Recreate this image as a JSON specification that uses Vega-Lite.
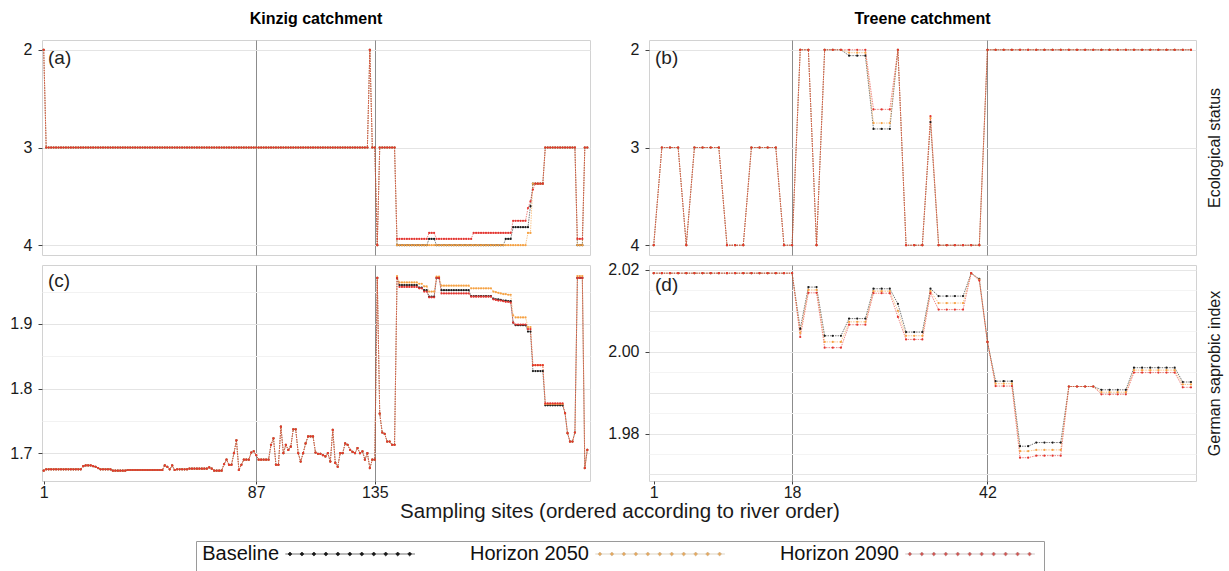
{
"$schema":"https://vega.github.io/schema/vega-lite/v6.json",
"padding":{"left":9,"top":10,"right":5,"bottom":0},
"background":"white",
"config":{
"font":"Liberation Sans",
"view":{"stroke":"#d2d2d2","strokeWidth":1},
"axis":{"minExtent":0,"maxExtent":200,"labelFontSize":16,"labelColor":"#1a1a1a","tickColor":"#444","tickSize":4,"domain":false,"titleFontWeight":"normal","labelFlush":false,"labelOverlap":false},
"title":{"fontSize":16,"fontWeight":"bold","color":"#000"}
},
"datasets":{
"ka":[{"s":1,"b":2,"m":2,"h":2},{"s":2,"b":3,"m":3,"h":3},{"s":3,"b":3,"m":3,"h":3},{"s":4,"b":3,"m":3,"h":3},{"s":5,"b":3,"m":3,"h":3},{"s":6,"b":3,"m":3,"h":3},{"s":7,"b":3,"m":3,"h":3},{"s":8,"b":3,"m":3,"h":3},{"s":9,"b":3,"m":3,"h":3},{"s":10,"b":3,"m":3,"h":3},{"s":11,"b":3,"m":3,"h":3},{"s":12,"b":3,"m":3,"h":3},{"s":13,"b":3,"m":3,"h":3},{"s":14,"b":3,"m":3,"h":3},{"s":15,"b":3,"m":3,"h":3},{"s":16,"b":3,"m":3,"h":3},{"s":17,"b":3,"m":3,"h":3},{"s":18,"b":3,"m":3,"h":3},{"s":19,"b":3,"m":3,"h":3},{"s":20,"b":3,"m":3,"h":3},{"s":21,"b":3,"m":3,"h":3},{"s":22,"b":3,"m":3,"h":3},{"s":23,"b":3,"m":3,"h":3},{"s":24,"b":3,"m":3,"h":3},{"s":25,"b":3,"m":3,"h":3},{"s":26,"b":3,"m":3,"h":3},{"s":27,"b":3,"m":3,"h":3},{"s":28,"b":3,"m":3,"h":3},{"s":29,"b":3,"m":3,"h":3},{"s":30,"b":3,"m":3,"h":3},{"s":31,"b":3,"m":3,"h":3},{"s":32,"b":3,"m":3,"h":3},{"s":33,"b":3,"m":3,"h":3},{"s":34,"b":3,"m":3,"h":3},{"s":35,"b":3,"m":3,"h":3},{"s":36,"b":3,"m":3,"h":3},{"s":37,"b":3,"m":3,"h":3},{"s":38,"b":3,"m":3,"h":3},{"s":39,"b":3,"m":3,"h":3},{"s":40,"b":3,"m":3,"h":3},{"s":41,"b":3,"m":3,"h":3},{"s":42,"b":3,"m":3,"h":3},{"s":43,"b":3,"m":3,"h":3},{"s":44,"b":3,"m":3,"h":3},{"s":45,"b":3,"m":3,"h":3},{"s":46,"b":3,"m":3,"h":3},{"s":47,"b":3,"m":3,"h":3},{"s":48,"b":3,"m":3,"h":3},{"s":49,"b":3,"m":3,"h":3},{"s":50,"b":3,"m":3,"h":3},{"s":51,"b":3,"m":3,"h":3},{"s":52,"b":3,"m":3,"h":3},{"s":53,"b":3,"m":3,"h":3},{"s":54,"b":3,"m":3,"h":3},{"s":55,"b":3,"m":3,"h":3},{"s":56,"b":3,"m":3,"h":3},{"s":57,"b":3,"m":3,"h":3},{"s":58,"b":3,"m":3,"h":3},{"s":59,"b":3,"m":3,"h":3},{"s":60,"b":3,"m":3,"h":3},{"s":61,"b":3,"m":3,"h":3},{"s":62,"b":3,"m":3,"h":3},{"s":63,"b":3,"m":3,"h":3},{"s":64,"b":3,"m":3,"h":3},{"s":65,"b":3,"m":3,"h":3},{"s":66,"b":3,"m":3,"h":3},{"s":67,"b":3,"m":3,"h":3},{"s":68,"b":3,"m":3,"h":3},{"s":69,"b":3,"m":3,"h":3},{"s":70,"b":3,"m":3,"h":3},{"s":71,"b":3,"m":3,"h":3},{"s":72,"b":3,"m":3,"h":3},{"s":73,"b":3,"m":3,"h":3},{"s":74,"b":3,"m":3,"h":3},{"s":75,"b":3,"m":3,"h":3},{"s":76,"b":3,"m":3,"h":3},{"s":77,"b":3,"m":3,"h":3},{"s":78,"b":3,"m":3,"h":3},{"s":79,"b":3,"m":3,"h":3},{"s":80,"b":3,"m":3,"h":3},{"s":81,"b":3,"m":3,"h":3},{"s":82,"b":3,"m":3,"h":3},{"s":83,"b":3,"m":3,"h":3},{"s":84,"b":3,"m":3,"h":3},{"s":85,"b":3,"m":3,"h":3},{"s":86,"b":3,"m":3,"h":3},{"s":87,"b":3,"m":3,"h":3},{"s":88,"b":3,"m":3,"h":3},{"s":89,"b":3,"m":3,"h":3},{"s":90,"b":3,"m":3,"h":3},{"s":91,"b":3,"m":3,"h":3},{"s":92,"b":3,"m":3,"h":3},{"s":93,"b":3,"m":3,"h":3},{"s":94,"b":3,"m":3,"h":3},{"s":95,"b":3,"m":3,"h":3},{"s":96,"b":3,"m":3,"h":3},{"s":97,"b":3,"m":3,"h":3},{"s":98,"b":3,"m":3,"h":3},{"s":99,"b":3,"m":3,"h":3},{"s":100,"b":3,"m":3,"h":3},{"s":101,"b":3,"m":3,"h":3},{"s":102,"b":3,"m":3,"h":3},{"s":103,"b":3,"m":3,"h":3},{"s":104,"b":3,"m":3,"h":3},{"s":105,"b":3,"m":3,"h":3},{"s":106,"b":3,"m":3,"h":3},{"s":107,"b":3,"m":3,"h":3},{"s":108,"b":3,"m":3,"h":3},{"s":109,"b":3,"m":3,"h":3},{"s":110,"b":3,"m":3,"h":3},{"s":111,"b":3,"m":3,"h":3},{"s":112,"b":3,"m":3,"h":3},{"s":113,"b":3,"m":3,"h":3},{"s":114,"b":3,"m":3,"h":3},{"s":115,"b":3,"m":3,"h":3},{"s":116,"b":3,"m":3,"h":3},{"s":117,"b":3,"m":3,"h":3},{"s":118,"b":3,"m":3,"h":3},{"s":119,"b":3,"m":3,"h":3},{"s":120,"b":3,"m":3,"h":3},{"s":121,"b":3,"m":3,"h":3},{"s":122,"b":3,"m":3,"h":3},{"s":123,"b":3,"m":3,"h":3},{"s":124,"b":3,"m":3,"h":3},{"s":125,"b":3,"m":3,"h":3},{"s":126,"b":3,"m":3,"h":3},{"s":127,"b":3,"m":3,"h":3},{"s":128,"b":3,"m":3,"h":3},{"s":129,"b":3,"m":3,"h":3},{"s":130,"b":3,"m":3,"h":3},{"s":131,"b":3,"m":3,"h":3},{"s":132,"b":3,"m":3,"h":3},{"s":133,"b":2,"m":2,"h":2},{"s":134,"b":3,"m":3,"h":3},{"s":135,"b":3,"m":3,"h":3},{"s":136,"b":4,"m":4,"h":4},{"s":137,"b":3,"m":3,"h":3},{"s":138,"b":3,"m":3,"h":3},{"s":139,"b":3,"m":3,"h":3},{"s":140,"b":3,"m":3,"h":3},{"s":141,"b":3,"m":3,"h":3},{"s":142,"b":3,"m":3,"h":3},{"s":143,"b":3,"m":3,"h":3},{"s":144,"b":4,"m":4,"h":3.935},{"s":145,"b":4,"m":4,"h":3.935},{"s":146,"b":4,"m":4,"h":3.935},{"s":147,"b":4,"m":4,"h":3.935},{"s":148,"b":4,"m":4,"h":3.935},{"s":149,"b":4,"m":4,"h":3.935},{"s":150,"b":4,"m":4,"h":3.935},{"s":151,"b":4,"m":4,"h":3.935},{"s":152,"b":4,"m":4,"h":3.935},{"s":153,"b":4,"m":4,"h":3.935},{"s":154,"b":4,"m":4,"h":3.935},{"s":155,"b":4,"m":4,"h":3.935},{"s":156,"b":4,"m":4,"h":3.935},{"s":157,"b":3.935,"m":4,"h":3.874},{"s":158,"b":3.935,"m":4,"h":3.874},{"s":159,"b":3.935,"m":4,"h":3.874},{"s":160,"b":4,"m":4,"h":3.935},{"s":161,"b":4,"m":4,"h":3.935},{"s":162,"b":4,"m":4,"h":3.935},{"s":163,"b":4,"m":4,"h":3.935},{"s":164,"b":4,"m":4,"h":3.935},{"s":165,"b":4,"m":4,"h":3.935},{"s":166,"b":4,"m":4,"h":3.935},{"s":167,"b":4,"m":4,"h":3.935},{"s":168,"b":4,"m":4,"h":3.935},{"s":169,"b":4,"m":4,"h":3.935},{"s":170,"b":4,"m":4,"h":3.935},{"s":171,"b":4,"m":4,"h":3.935},{"s":172,"b":4,"m":4,"h":3.935},{"s":173,"b":4,"m":4,"h":3.935},{"s":174,"b":4,"m":4,"h":3.935},{"s":175,"b":4,"m":4,"h":3.874},{"s":176,"b":4,"m":4,"h":3.874},{"s":177,"b":4,"m":4,"h":3.874},{"s":178,"b":4,"m":4,"h":3.874},{"s":179,"b":4,"m":4,"h":3.874},{"s":180,"b":4,"m":4,"h":3.874},{"s":181,"b":4,"m":4,"h":3.874},{"s":182,"b":4,"m":4,"h":3.874},{"s":183,"b":4,"m":4,"h":3.874},{"s":184,"b":4,"m":4,"h":3.874},{"s":185,"b":4,"m":4,"h":3.874},{"s":186,"b":4,"m":4,"h":3.874},{"s":187,"b":4,"m":4,"h":3.874},{"s":188,"b":3.935,"m":4,"h":3.874},{"s":189,"b":3.935,"m":4,"h":3.874},{"s":190,"b":3.935,"m":4,"h":3.874},{"s":191,"b":3.815,"m":4,"h":3.75},{"s":192,"b":3.815,"m":4,"h":3.75},{"s":193,"b":3.815,"m":4,"h":3.75},{"s":194,"b":3.815,"m":4,"h":3.75},{"s":195,"b":3.815,"m":4,"h":3.75},{"s":196,"b":3.815,"m":4,"h":3.75},{"s":197,"b":3.815,"m":3.874,"h":3.62},{"s":198,"b":3.6,"m":3.874,"h":3.55},{"s":199,"b":3.37,"m":3.37,"h":3.43},{"s":200,"b":3.37,"m":3.37,"h":3.37},{"s":201,"b":3.37,"m":3.37,"h":3.37},{"s":202,"b":3.37,"m":3.37,"h":3.37},{"s":203,"b":3.37,"m":3.37,"h":3.37},{"s":204,"b":3,"m":3,"h":3},{"s":205,"b":3,"m":3,"h":3},{"s":206,"b":3,"m":3,"h":3},{"s":207,"b":3,"m":3,"h":3},{"s":208,"b":3,"m":3,"h":3},{"s":209,"b":3,"m":3,"h":3},{"s":210,"b":3,"m":3,"h":3},{"s":211,"b":3,"m":3,"h":3},{"s":212,"b":3,"m":3,"h":3},{"s":213,"b":3,"m":3,"h":3},{"s":214,"b":3,"m":3,"h":3},{"s":215,"b":3,"m":3,"h":3},{"s":216,"b":3,"m":3,"h":3},{"s":217,"b":4,"m":4,"h":3.935},{"s":218,"b":4,"m":4,"h":3.935},{"s":219,"b":4,"m":4,"h":3.935},{"s":220,"b":3,"m":3,"h":3},{"s":221,"b":3,"m":3,"h":3}],
"kc":[{"s":1,"b":1.673,"m":1.673,"h":1.673},{"s":2,"b":1.675,"m":1.675,"h":1.675},{"s":3,"b":1.675,"m":1.675,"h":1.675},{"s":4,"b":1.675,"m":1.675,"h":1.675},{"s":5,"b":1.675,"m":1.675,"h":1.675},{"s":6,"b":1.675,"m":1.675,"h":1.675},{"s":7,"b":1.675,"m":1.675,"h":1.675},{"s":8,"b":1.675,"m":1.675,"h":1.675},{"s":9,"b":1.675,"m":1.675,"h":1.675},{"s":10,"b":1.675,"m":1.675,"h":1.675},{"s":11,"b":1.675,"m":1.675,"h":1.675},{"s":12,"b":1.675,"m":1.675,"h":1.675},{"s":13,"b":1.675,"m":1.675,"h":1.675},{"s":14,"b":1.675,"m":1.675,"h":1.675},{"s":15,"b":1.675,"m":1.675,"h":1.675},{"s":16,"b":1.675,"m":1.675,"h":1.675},{"s":17,"b":1.68,"m":1.68,"h":1.68},{"s":18,"b":1.681,"m":1.681,"h":1.681},{"s":19,"b":1.681,"m":1.681,"h":1.681},{"s":20,"b":1.681,"m":1.681,"h":1.681},{"s":21,"b":1.68,"m":1.68,"h":1.68},{"s":22,"b":1.679,"m":1.679,"h":1.679},{"s":23,"b":1.677,"m":1.677,"h":1.677},{"s":24,"b":1.675,"m":1.675,"h":1.675},{"s":25,"b":1.675,"m":1.675,"h":1.675},{"s":26,"b":1.675,"m":1.675,"h":1.675},{"s":27,"b":1.675,"m":1.675,"h":1.675},{"s":28,"b":1.675,"m":1.675,"h":1.675},{"s":29,"b":1.673,"m":1.673,"h":1.673},{"s":30,"b":1.673,"m":1.673,"h":1.673},{"s":31,"b":1.673,"m":1.673,"h":1.673},{"s":32,"b":1.673,"m":1.673,"h":1.673},{"s":33,"b":1.673,"m":1.673,"h":1.673},{"s":34,"b":1.673,"m":1.673,"h":1.673},{"s":35,"b":1.674,"m":1.674,"h":1.674},{"s":36,"b":1.674,"m":1.674,"h":1.674},{"s":37,"b":1.674,"m":1.674,"h":1.674},{"s":38,"b":1.674,"m":1.674,"h":1.674},{"s":39,"b":1.674,"m":1.674,"h":1.674},{"s":40,"b":1.674,"m":1.674,"h":1.674},{"s":41,"b":1.674,"m":1.674,"h":1.674},{"s":42,"b":1.674,"m":1.674,"h":1.674},{"s":43,"b":1.674,"m":1.674,"h":1.674},{"s":44,"b":1.674,"m":1.674,"h":1.674},{"s":45,"b":1.674,"m":1.674,"h":1.674},{"s":46,"b":1.674,"m":1.674,"h":1.674},{"s":47,"b":1.674,"m":1.674,"h":1.674},{"s":48,"b":1.674,"m":1.674,"h":1.674},{"s":49,"b":1.674,"m":1.674,"h":1.674},{"s":50,"b":1.681,"m":1.681,"h":1.681},{"s":51,"b":1.679,"m":1.679,"h":1.679},{"s":52,"b":1.675,"m":1.675,"h":1.675},{"s":53,"b":1.681,"m":1.681,"h":1.681},{"s":54,"b":1.674,"m":1.674,"h":1.674},{"s":55,"b":1.675,"m":1.675,"h":1.675},{"s":56,"b":1.675,"m":1.675,"h":1.675},{"s":57,"b":1.675,"m":1.675,"h":1.675},{"s":58,"b":1.675,"m":1.675,"h":1.675},{"s":59,"b":1.675,"m":1.675,"h":1.675},{"s":60,"b":1.676,"m":1.676,"h":1.676},{"s":61,"b":1.676,"m":1.676,"h":1.676},{"s":62,"b":1.676,"m":1.676,"h":1.676},{"s":63,"b":1.676,"m":1.676,"h":1.676},{"s":64,"b":1.676,"m":1.676,"h":1.676},{"s":65,"b":1.676,"m":1.676,"h":1.676},{"s":66,"b":1.676,"m":1.676,"h":1.676},{"s":67,"b":1.676,"m":1.676,"h":1.676},{"s":68,"b":1.678,"m":1.678,"h":1.678},{"s":69,"b":1.676,"m":1.676,"h":1.676},{"s":70,"b":1.673,"m":1.673,"h":1.673},{"s":71,"b":1.673,"m":1.673,"h":1.673},{"s":72,"b":1.673,"m":1.673,"h":1.673},{"s":73,"b":1.673,"m":1.673,"h":1.673},{"s":74,"b":1.683,"m":1.683,"h":1.683},{"s":75,"b":1.69,"m":1.69,"h":1.69},{"s":76,"b":1.682,"m":1.682,"h":1.682},{"s":77,"b":1.682,"m":1.682,"h":1.682},{"s":78,"b":1.7,"m":1.7,"h":1.7},{"s":79,"b":1.72,"m":1.72,"h":1.72},{"s":80,"b":1.674,"m":1.674,"h":1.674},{"s":81,"b":1.682,"m":1.682,"h":1.682},{"s":82,"b":1.69,"m":1.69,"h":1.69},{"s":83,"b":1.69,"m":1.69,"h":1.69},{"s":84,"b":1.69,"m":1.69,"h":1.69},{"s":85,"b":1.701,"m":1.701,"h":1.701},{"s":86,"b":1.703,"m":1.703,"h":1.703},{"s":87,"b":1.697,"m":1.697,"h":1.697},{"s":88,"b":1.69,"m":1.69,"h":1.69},{"s":89,"b":1.69,"m":1.69,"h":1.69},{"s":90,"b":1.69,"m":1.69,"h":1.69},{"s":91,"b":1.69,"m":1.69,"h":1.69},{"s":92,"b":1.69,"m":1.69,"h":1.69},{"s":93,"b":1.713,"m":1.713,"h":1.713},{"s":94,"b":1.723,"m":1.723,"h":1.723},{"s":95,"b":1.682,"m":1.682,"h":1.682},{"s":96,"b":1.682,"m":1.682,"h":1.682},{"s":97,"b":1.741,"m":1.741,"h":1.741},{"s":98,"b":1.7,"m":1.7,"h":1.7},{"s":99,"b":1.713,"m":1.713,"h":1.713},{"s":100,"b":1.705,"m":1.705,"h":1.705},{"s":101,"b":1.71,"m":1.71,"h":1.71},{"s":102,"b":1.737,"m":1.737,"h":1.737},{"s":103,"b":1.737,"m":1.737,"h":1.737},{"s":104,"b":1.7,"m":1.7,"h":1.7},{"s":105,"b":1.687,"m":1.687,"h":1.687},{"s":106,"b":1.7,"m":1.7,"h":1.7},{"s":107,"b":1.715,"m":1.715,"h":1.715},{"s":108,"b":1.726,"m":1.726,"h":1.726},{"s":109,"b":1.726,"m":1.726,"h":1.726},{"s":110,"b":1.726,"m":1.726,"h":1.726},{"s":111,"b":1.701,"m":1.701,"h":1.701},{"s":112,"b":1.699,"m":1.699,"h":1.699},{"s":113,"b":1.699,"m":1.699,"h":1.699},{"s":114,"b":1.697,"m":1.697,"h":1.697},{"s":115,"b":1.695,"m":1.695,"h":1.695},{"s":116,"b":1.7,"m":1.7,"h":1.7},{"s":117,"b":1.687,"m":1.687,"h":1.687},{"s":118,"b":1.736,"m":1.736,"h":1.736},{"s":119,"b":1.685,"m":1.685,"h":1.685},{"s":120,"b":1.679,"m":1.679,"h":1.679},{"s":121,"b":1.7,"m":1.7,"h":1.7},{"s":122,"b":1.7,"m":1.7,"h":1.7},{"s":123,"b":1.715,"m":1.715,"h":1.715},{"s":124,"b":1.713,"m":1.713,"h":1.713},{"s":125,"b":1.705,"m":1.705,"h":1.705},{"s":126,"b":1.702,"m":1.702,"h":1.702},{"s":127,"b":1.7,"m":1.7,"h":1.7},{"s":128,"b":1.708,"m":1.708,"h":1.708},{"s":129,"b":1.7,"m":1.7,"h":1.7},{"s":130,"b":1.703,"m":1.703,"h":1.703},{"s":131,"b":1.69,"m":1.69,"h":1.69},{"s":132,"b":1.7,"m":1.7,"h":1.7},{"s":133,"b":1.677,"m":1.677,"h":1.677},{"s":134,"b":1.69,"m":1.69,"h":1.69},{"s":135,"b":1.69,"m":1.69,"h":1.69},{"s":136,"b":1.971,"m":1.971,"h":1.971},{"s":137,"b":1.761,"m":1.761,"h":1.761},{"s":138,"b":1.732,"m":1.732,"h":1.732},{"s":139,"b":1.73,"m":1.73,"h":1.73},{"s":140,"b":1.718,"m":1.718,"h":1.718},{"s":141,"b":1.718,"m":1.718,"h":1.718},{"s":142,"b":1.713,"m":1.713,"h":1.713},{"s":143,"b":1.713,"m":1.713,"h":1.713},{"s":144,"b":1.971,"m":1.974,"h":1.971},{"s":145,"b":1.96,"m":1.964,"h":1.957},{"s":146,"b":1.96,"m":1.964,"h":1.957},{"s":147,"b":1.96,"m":1.964,"h":1.957},{"s":148,"b":1.96,"m":1.964,"h":1.957},{"s":149,"b":1.96,"m":1.964,"h":1.957},{"s":150,"b":1.96,"m":1.964,"h":1.957},{"s":151,"b":1.96,"m":1.964,"h":1.957},{"s":152,"b":1.96,"m":1.964,"h":1.957},{"s":153,"b":1.956,"m":1.962,"h":1.955},{"s":154,"b":1.956,"m":1.962,"h":1.955},{"s":155,"b":1.952,"m":1.958,"h":1.95},{"s":156,"b":1.952,"m":1.958,"h":1.95},{"s":157,"b":1.942,"m":1.95,"h":1.941},{"s":158,"b":1.942,"m":1.95,"h":1.941},{"s":159,"b":1.942,"m":1.95,"h":1.941},{"s":160,"b":1.971,"m":1.973,"h":1.971},{"s":161,"b":1.971,"m":1.973,"h":1.971},{"s":162,"b":1.952,"m":1.959,"h":1.947},{"s":163,"b":1.952,"m":1.959,"h":1.947},{"s":164,"b":1.952,"m":1.959,"h":1.947},{"s":165,"b":1.952,"m":1.959,"h":1.947},{"s":166,"b":1.952,"m":1.959,"h":1.947},{"s":167,"b":1.952,"m":1.959,"h":1.947},{"s":168,"b":1.952,"m":1.959,"h":1.947},{"s":169,"b":1.952,"m":1.959,"h":1.947},{"s":170,"b":1.952,"m":1.959,"h":1.947},{"s":171,"b":1.952,"m":1.959,"h":1.947},{"s":172,"b":1.952,"m":1.959,"h":1.947},{"s":173,"b":1.952,"m":1.959,"h":1.947},{"s":174,"b":1.943,"m":1.955,"h":1.942},{"s":175,"b":1.943,"m":1.955,"h":1.942},{"s":176,"b":1.943,"m":1.955,"h":1.942},{"s":177,"b":1.943,"m":1.955,"h":1.942},{"s":178,"b":1.943,"m":1.955,"h":1.942},{"s":179,"b":1.943,"m":1.955,"h":1.942},{"s":180,"b":1.943,"m":1.955,"h":1.942},{"s":181,"b":1.943,"m":1.955,"h":1.942},{"s":182,"b":1.943,"m":1.955,"h":1.942},{"s":183,"b":1.939,"m":1.95,"h":1.938},{"s":184,"b":1.938,"m":1.949,"h":1.937},{"s":185,"b":1.938,"m":1.948,"h":1.936},{"s":186,"b":1.937,"m":1.947,"h":1.936},{"s":187,"b":1.936,"m":1.946,"h":1.935},{"s":188,"b":1.936,"m":1.946,"h":1.934},{"s":189,"b":1.935,"m":1.945,"h":1.934},{"s":190,"b":1.935,"m":1.945,"h":1.933},{"s":191,"b":1.902,"m":1.913,"h":1.902},{"s":192,"b":1.898,"m":1.91,"h":1.899},{"s":193,"b":1.898,"m":1.91,"h":1.899},{"s":194,"b":1.898,"m":1.91,"h":1.899},{"s":195,"b":1.898,"m":1.91,"h":1.899},{"s":196,"b":1.898,"m":1.91,"h":1.899},{"s":197,"b":1.888,"m":1.895,"h":1.892},{"s":198,"b":1.888,"m":1.895,"h":1.892},{"s":199,"b":1.827,"m":1.836,"h":1.836},{"s":200,"b":1.827,"m":1.836,"h":1.836},{"s":201,"b":1.827,"m":1.836,"h":1.836},{"s":202,"b":1.827,"m":1.836,"h":1.836},{"s":203,"b":1.827,"m":1.836,"h":1.836},{"s":204,"b":1.774,"m":1.776,"h":1.777},{"s":205,"b":1.774,"m":1.776,"h":1.777},{"s":206,"b":1.774,"m":1.776,"h":1.777},{"s":207,"b":1.774,"m":1.776,"h":1.777},{"s":208,"b":1.774,"m":1.776,"h":1.777},{"s":209,"b":1.774,"m":1.776,"h":1.777},{"s":210,"b":1.774,"m":1.776,"h":1.777},{"s":211,"b":1.774,"m":1.776,"h":1.777},{"s":212,"b":1.762,"m":1.762,"h":1.762},{"s":213,"b":1.731,"m":1.731,"h":1.731},{"s":214,"b":1.718,"m":1.718,"h":1.718},{"s":215,"b":1.718,"m":1.718,"h":1.718},{"s":216,"b":1.732,"m":1.732,"h":1.732},{"s":217,"b":1.971,"m":1.974,"h":1.971},{"s":218,"b":1.971,"m":1.974,"h":1.971},{"s":219,"b":1.971,"m":1.974,"h":1.971},{"s":220,"b":1.677,"m":1.677,"h":1.677},{"s":221,"b":1.705,"m":1.705,"h":1.705}],
"tb":[{"s":1,"b":4,"m":4,"h":4},{"s":2,"b":3,"m":3,"h":3},{"s":3,"b":3,"m":3,"h":3},{"s":4,"b":3,"m":3,"h":3},{"s":5,"b":4,"m":4,"h":4},{"s":6,"b":3,"m":3,"h":3},{"s":7,"b":3,"m":3,"h":3},{"s":8,"b":3,"m":3,"h":3},{"s":9,"b":3,"m":3,"h":3},{"s":10,"b":4,"m":4,"h":4},{"s":11,"b":4,"m":4,"h":4},{"s":12,"b":4,"m":4,"h":4},{"s":13,"b":3,"m":3,"h":3},{"s":14,"b":3,"m":3,"h":3},{"s":15,"b":3,"m":3,"h":3},{"s":16,"b":3,"m":3,"h":3},{"s":17,"b":4,"m":4,"h":4},{"s":18,"b":4,"m":4,"h":4},{"s":19,"b":2,"m":2,"h":2},{"s":20,"b":2,"m":2,"h":2},{"s":21,"b":4,"m":4,"h":4},{"s":22,"b":2,"m":2,"h":2},{"s":23,"b":2,"m":2,"h":2},{"s":24,"b":2,"m":2,"h":2},{"s":25,"b":2.06,"m":2.03,"h":2},{"s":26,"b":2.06,"m":2.03,"h":2},{"s":27,"b":2.06,"m":2.03,"h":2},{"s":28,"b":2.81,"m":2.75,"h":2.61},{"s":29,"b":2.81,"m":2.75,"h":2.61},{"s":30,"b":2.81,"m":2.75,"h":2.61},{"s":31,"b":2,"m":2,"h":2},{"s":32,"b":4,"m":4,"h":4},{"s":33,"b":4,"m":4,"h":4},{"s":34,"b":4,"m":4,"h":4},{"s":35,"b":2.74,"m":2.7,"h":2.68},{"s":36,"b":4,"m":4,"h":4},{"s":37,"b":4,"m":4,"h":4},{"s":38,"b":4,"m":4,"h":4},{"s":39,"b":4,"m":4,"h":4},{"s":40,"b":4,"m":4,"h":4},{"s":41,"b":4,"m":4,"h":4},{"s":42,"b":2,"m":2,"h":2},{"s":43,"b":2,"m":2,"h":2},{"s":44,"b":2,"m":2,"h":2},{"s":45,"b":2,"m":2,"h":2},{"s":46,"b":2,"m":2,"h":2},{"s":47,"b":2,"m":2,"h":2},{"s":48,"b":2,"m":2,"h":2},{"s":49,"b":2,"m":2,"h":2},{"s":50,"b":2,"m":2,"h":2},{"s":51,"b":2,"m":2,"h":2},{"s":52,"b":2,"m":2,"h":2},{"s":53,"b":2,"m":2,"h":2},{"s":54,"b":2,"m":2,"h":2},{"s":55,"b":2,"m":2,"h":2},{"s":56,"b":2,"m":2,"h":2},{"s":57,"b":2,"m":2,"h":2},{"s":58,"b":2,"m":2,"h":2},{"s":59,"b":2,"m":2,"h":2},{"s":60,"b":2,"m":2,"h":2},{"s":61,"b":2,"m":2,"h":2},{"s":62,"b":2,"m":2,"h":2},{"s":63,"b":2,"m":2,"h":2},{"s":64,"b":2,"m":2,"h":2},{"s":65,"b":2,"m":2,"h":2},{"s":66,"b":2,"m":2,"h":2},{"s":67,"b":2,"m":2,"h":2}],
"td":[{"s":1,"b":2.0192,"m":2.0192,"h":2.0192},{"s":2,"b":2.0192,"m":2.0192,"h":2.0192},{"s":3,"b":2.0192,"m":2.0192,"h":2.0192},{"s":4,"b":2.0192,"m":2.0192,"h":2.0192},{"s":5,"b":2.0192,"m":2.0192,"h":2.0192},{"s":6,"b":2.0192,"m":2.0192,"h":2.0192},{"s":7,"b":2.0192,"m":2.0192,"h":2.0192},{"s":8,"b":2.0192,"m":2.0192,"h":2.0192},{"s":9,"b":2.0192,"m":2.0192,"h":2.0192},{"s":10,"b":2.0192,"m":2.0192,"h":2.0192},{"s":11,"b":2.0192,"m":2.0192,"h":2.0192},{"s":12,"b":2.0192,"m":2.0192,"h":2.0192},{"s":13,"b":2.0192,"m":2.0192,"h":2.0192},{"s":14,"b":2.0192,"m":2.0192,"h":2.0192},{"s":15,"b":2.0192,"m":2.0192,"h":2.0192},{"s":16,"b":2.0192,"m":2.0192,"h":2.0192},{"s":17,"b":2.0192,"m":2.0192,"h":2.0192},{"s":18,"b":2.0192,"m":2.0192,"h":2.0192},{"s":19,"b":2.0056,"m":2.0046,"h":2.0036},{"s":20,"b":2.0158,"m":2.0151,"h":2.0144},{"s":21,"b":2.0158,"m":2.0151,"h":2.0144},{"s":22,"b":2.0039,"m":2.0024,"h":2.001},{"s":23,"b":2.0039,"m":2.0024,"h":2.001},{"s":24,"b":2.0039,"m":2.0024,"h":2.001},{"s":25,"b":2.0081,"m":2.0073,"h":2.0066},{"s":26,"b":2.0081,"m":2.0073,"h":2.0066},{"s":27,"b":2.0081,"m":2.0073,"h":2.0066},{"s":28,"b":2.0154,"m":2.0148,"h":2.0143},{"s":29,"b":2.0154,"m":2.0148,"h":2.0143},{"s":30,"b":2.0154,"m":2.0148,"h":2.0143},{"s":31,"b":2.0117,"m":2.01,"h":2.0085},{"s":32,"b":2.0048,"m":2.0039,"h":2.003},{"s":33,"b":2.0048,"m":2.0039,"h":2.003},{"s":34,"b":2.0048,"m":2.0039,"h":2.003},{"s":35,"b":2.0154,"m":2.0148,"h":2.0143},{"s":36,"b":2.0136,"m":2.0119,"h":2.0103},{"s":37,"b":2.0136,"m":2.0119,"h":2.0103},{"s":38,"b":2.0136,"m":2.0119,"h":2.0103},{"s":39,"b":2.0136,"m":2.0119,"h":2.0103},{"s":40,"b":2.0192,"m":2.0192,"h":2.0192},{"s":41,"b":2.0178,"m":2.0176,"h":2.0174},{"s":42,"b":2.0024,"m":2.0024,"h":2.0024},{"s":43,"b":1.9928,"m":1.9922,"h":1.9916},{"s":44,"b":1.9928,"m":1.9922,"h":1.9916},{"s":45,"b":1.9928,"m":1.9922,"h":1.9916},{"s":46,"b":1.9769,"m":1.9757,"h":1.9741},{"s":47,"b":1.9769,"m":1.9757,"h":1.9741},{"s":48,"b":1.9778,"m":1.976,"h":1.9746},{"s":49,"b":1.9778,"m":1.976,"h":1.9746},{"s":50,"b":1.9778,"m":1.976,"h":1.9746},{"s":51,"b":1.9778,"m":1.976,"h":1.9746},{"s":52,"b":1.9915,"m":1.9915,"h":1.9915},{"s":53,"b":1.9915,"m":1.9915,"h":1.9915},{"s":54,"b":1.9915,"m":1.9915,"h":1.9915},{"s":55,"b":1.9915,"m":1.9915,"h":1.9915},{"s":56,"b":1.9907,"m":1.9901,"h":1.9896},{"s":57,"b":1.9907,"m":1.9901,"h":1.9896},{"s":58,"b":1.9907,"m":1.9901,"h":1.9896},{"s":59,"b":1.9907,"m":1.9901,"h":1.9896},{"s":60,"b":1.9961,"m":1.9955,"h":1.9949},{"s":61,"b":1.9961,"m":1.9955,"h":1.9949},{"s":62,"b":1.9961,"m":1.9955,"h":1.9949},{"s":63,"b":1.9961,"m":1.9955,"h":1.9949},{"s":64,"b":1.9961,"m":1.9955,"h":1.9949},{"s":65,"b":1.9961,"m":1.9955,"h":1.9949},{"s":66,"b":1.9926,"m":1.992,"h":1.9913},{"s":67,"b":1.9926,"m":1.992,"h":1.9913}]
},
"spacing":0,
"vconcat":[
{"columns":2,"spacing":{"row":5,"column":16},
"concat":[
{"width":548,"height":215,
"title":{"text":"Kinzig catchment","anchor":"middle","offset":13},
"data":{"name":"ka"},
"layer":[
{"transform":[{"fold":["b","m","h"],"as":["k","v"]}],
"mark":{"type":"line","strokeWidth":0.7,"strokeDash":[1.5,1],"opacity":0.85},
"encoding":{
"x":{"field":"s","type":"quantitative","scale":{"domain":[0.31,222.1],"nice":false,"zero":false},"axis":{"values":[1,87,135],"labels":false,"ticks":false,"title":null,"grid":true,"gridColor":{"condition":{"test":"datum.value == 1","value":"transparent"},"value":"#8c8c8c"}}},
"y":{"field":"v","type":"quantitative","scale":{"domain":[1.9,4.1],"reverse":true,"nice":false,"zero":false},"axis":{"values":[2,2.5,3,3.5,4],"format":"d","labelExpr":"datum.value % 1 == 0 ? datum.label : ''","tickOpacity":{"condition":{"test":"datum.value % 1 != 0","value":0},"value":1},"gridColor":{"condition":{"test":"datum.value % 1 != 0","value":"#f2f2f2"},"value":"#e4e4e4"},"title":null,"labelPadding":6}},
"color":{"field":"k","type":"nominal","scale":{"domain":["b","m","h"],"range":["#1a1a1a","#f5a142","#e3342f"]},"legend":null}}},
{"transform":[{"fold":["b","m","h"],"as":["k","v"]}],
"mark":{"type":"point","filled":true,"size":5,"opacity":1},
"encoding":{"x":{"field":"s","type":"quantitative"},"y":{"field":"v","type":"quantitative"},"color":{"field":"k","type":"nominal","legend":null}}},
{"data":{"values":[{"lab":"(a)"}]},
"mark":{"type":"text","align":"left","baseline":"top","fontSize":19,"dx":6,"dy":9,"color":"#222"},
"encoding":{"x":{"datum":0.31,"type":"quantitative"},"y":{"datum":1.9,"type":"quantitative"},"text":{"field":"lab"}}}
]},
{"width":547,"height":215,
"title":{"text":"Treene catchment","anchor":"middle","offset":13},
"data":{"name":"tb"},
"resolve":{"axis":{"y":"independent"}},
"layer":[
{"transform":[{"fold":["b","m","h"],"as":["k","v"]}],
"mark":{"type":"line","strokeWidth":0.7,"strokeDash":[1.5,1],"opacity":0.85},
"encoding":{
"x":{"field":"s","type":"quantitative","scale":{"domain":[0.42,67.62],"nice":false,"zero":false},"axis":{"values":[1,18,42],"labels":false,"ticks":false,"title":null,"grid":true,"gridColor":{"condition":{"test":"datum.value == 1","value":"transparent"},"value":"#8c8c8c"}}},
"y":{"field":"v","type":"quantitative","scale":{"domain":[1.9,4.1],"reverse":true,"nice":false,"zero":false},"axis":{"orient":"left","values":[2,2.5,3,3.5,4],"format":"d","labelExpr":"datum.value % 1 == 0 ? datum.label : ''","tickOpacity":{"condition":{"test":"datum.value % 1 != 0","value":0},"value":1},"gridColor":{"condition":{"test":"datum.value % 1 != 0","value":"#f2f2f2"},"value":"#e4e4e4"},"title":null,"labelPadding":6}},
"color":{"field":"k","type":"nominal","legend":null}}},
{"transform":[{"fold":["b","m","h"],"as":["k","v"]}],
"mark":{"type":"point","filled":true,"size":5,"opacity":1},
"encoding":{"x":{"field":"s","type":"quantitative"},"y":{"field":"v","type":"quantitative","axis":{"orient":"right","title":"Ecological status","labels":false,"ticks":false,"grid":false,"domain":false,"titleAngle":270,"titleBaseline":"top","titleFontSize":16,"titlePadding":10,"titleColor":"#1a1a1a"}},"color":{"field":"k","type":"nominal","legend":null}}},
{"data":{"values":[{"lab":"(b)"}]},
"mark":{"type":"text","align":"left","baseline":"top","fontSize":19,"dx":6,"dy":9,"color":"#222"},
"encoding":{"x":{"datum":0.42,"type":"quantitative"},"y":{"datum":1.9,"type":"quantitative","axis":null},"text":{"field":"lab"}}}
]},
{"width":548,"height":216,
"data":{"name":"kc"},
"layer":[
{"transform":[{"fold":["b","m","h"],"as":["k","v"]}],
"mark":{"type":"line","strokeWidth":0.7,"strokeDash":[1.5,1],"opacity":0.85},
"encoding":{
"x":{"field":"s","type":"quantitative","scale":{"domain":[0.31,222.1],"nice":false,"zero":false},"axis":{"values":[1,87,135],"format":"d","title":null,"tickSize":3,"labelPadding":0,"grid":true,"gridColor":{"condition":{"test":"datum.value == 1","value":"transparent"},"value":"#8c8c8c"}}},
"y":{"field":"v","type":"quantitative","scale":{"domain":[1.657,1.991],"nice":false,"zero":false},"axis":{"values":[1.7,1.75,1.8,1.85,1.9,1.95],"format":".1f","labelExpr":"abs(datum.value*10-round(datum.value*10)) < 0.001 ? datum.label : ''","tickOpacity":{"condition":{"test":"abs(datum.value*10-round(datum.value*10)) > 0.001","value":0},"value":1},"gridColor":{"condition":{"test":"abs(datum.value*10-round(datum.value*10)) > 0.001","value":"#f2f2f2"},"value":"#e4e4e4"},"title":null,"labelPadding":6}},
"color":{"field":"k","type":"nominal","legend":null}}},
{"transform":[{"fold":["b","m","h"],"as":["k","v"]}],
"mark":{"type":"point","filled":true,"size":5,"opacity":1},
"encoding":{"x":{"field":"s","type":"quantitative"},"y":{"field":"v","type":"quantitative"},"color":{"field":"k","type":"nominal","legend":null}}},
{"data":{"values":[{"lab":"(c)"}]},
"mark":{"type":"text","align":"left","baseline":"top","fontSize":19,"dx":6,"dy":7,"color":"#222"},
"encoding":{"x":{"datum":0.31,"type":"quantitative"},"y":{"datum":1.991,"type":"quantitative"},"text":{"field":"lab"}}}
]},
{"width":547,"height":216,
"data":{"name":"td"},
"resolve":{"axis":{"y":"independent"}},
"layer":[
{"transform":[{"fold":["b","m","h"],"as":["k","v"]}],
"mark":{"type":"line","strokeWidth":0.7,"strokeDash":[1.5,1],"opacity":0.85},
"encoding":{
"x":{"field":"s","type":"quantitative","scale":{"domain":[0.42,67.62],"nice":false,"zero":false},"axis":{"values":[1,18,42],"format":"d","title":null,"tickSize":3,"labelPadding":0,"grid":true,"gridColor":{"condition":{"test":"datum.value == 1","value":"transparent"},"value":"#8c8c8c"}}},
"y":{"field":"v","type":"quantitative","scale":{"domain":[1.9684,2.0212],"nice":false,"zero":false},"axis":{"orient":"left","values":[1.97,1.975,1.98,1.985,1.99,1.995,2.0,2.005,2.01,2.015,2.02],"format":".2f","labelExpr":"abs(datum.value*50-round(datum.value*50)) < 0.001 ? datum.label : ''","tickOpacity":{"condition":{"test":"abs(datum.value*50-round(datum.value*50)) > 0.001","value":0},"value":1},"gridColor":{"condition":{"test":"abs(datum.value*100-round(datum.value*100)) > 0.001","value":"#f4f4f4"},"value":"#e6e6e6"},"title":null,"labelPadding":6}},
"color":{"field":"k","type":"nominal","legend":null}}},
{"transform":[{"fold":["b","m","h"],"as":["k","v"]}],
"mark":{"type":"point","filled":true,"size":5,"opacity":1},
"encoding":{"x":{"field":"s","type":"quantitative"},"y":{"field":"v","type":"quantitative","axis":{"orient":"right","title":"German saprobic index","labels":false,"ticks":false,"grid":false,"domain":false,"titleAngle":270,"titleBaseline":"top","titleFontSize":16,"titlePadding":10,"titleColor":"#1a1a1a"}},"color":{"field":"k","type":"nominal","legend":null}}},
{"data":{"values":[{"lab":"(d)"}]},
"mark":{"type":"text","align":"left","baseline":"top","fontSize":19,"dx":6,"dy":11,"color":"#222"},
"encoding":{"x":{"datum":0.42,"type":"quantitative"},"y":{"datum":2.0212,"type":"quantitative","axis":null},"text":{"field":"lab"}}}
]}
]},
{"spacing":0,
"hconcat":[
{"width":153,"height":32,"view":{"stroke":null},"data":{"values":[]},"mark":{"type":"point"},"encoding":{}},
{"width":848,"height":32,
"title":{"text":"Sampling sites (ordered according to river order)","fontSize":20.5,"fontWeight":"normal","color":"#1a1a1a","offset":19,"anchor":"middle"},
"view":{"stroke":"#9a9a9a","strokeWidth":1},
"data":{"values":[{"k":"b","label":"Baseline"},{"k":"m","label":"Horizon 2050"},{"k":"h","label":"Horizon 2090"}]},
"encoding":{"x":{"field":"k","type":"nominal","scale":{"type":"point","domain":["b","m","h"],"padding":0.368,"align":0.377},"axis":null}},
"layer":[
{"mark":{"type":"text","align":"right","baseline":"middle","fontSize":20,"dx":-3,"dy":-3,"color":"#111"},"encoding":{"text":{"field":"label"}}},
{"mark":{"type":"point","filled":true,"size":17689,"strokeWidth":0.6,"opacity":1,"yOffset":-3,"shape":"M0.05,0L2,0M0.09,0L0.12,-0.03L0.15,0L0.12,0.03ZM0.27,0L0.3,-0.03L0.33,0L0.3,0.03ZM0.45,0L0.48,-0.03L0.51,0L0.48,0.03ZM0.63,0L0.66,-0.03L0.69,0L0.66,0.03ZM0.81,0L0.84,-0.03L0.87,0L0.84,0.03ZM0.99,0L1.02,-0.03L1.05,0L1.02,0.03ZM1.17,0L1.2,-0.03L1.23,0L1.2,0.03ZM1.35,0L1.38,-0.03L1.41,0L1.38,0.03ZM1.53,0L1.56,-0.03L1.59,0L1.56,0.03ZM1.71,0L1.74,-0.03L1.77,0L1.74,0.03ZM1.89,0L1.92,-0.03L1.95,0L1.92,0.03Z"},
"encoding":{"color":{"field":"k","type":"nominal","legend":null},"stroke":{"field":"k","type":"nominal","scale":{"domain":["b","m","h"],"range":["#1a1a1a","#c8b8a0","#b0a0a0"]},"legend":null}}}
]}
]}
]
}
